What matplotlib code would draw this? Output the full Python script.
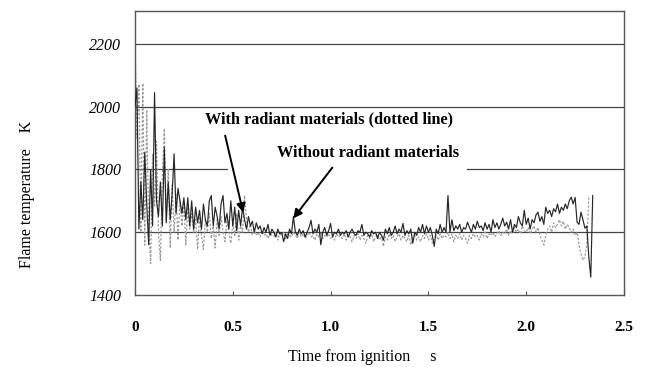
import matplotlib
matplotlib.use("Agg")
import matplotlib.pyplot as plt
import numpy as np

dt = 0.01

without_radiant = [
    2000, 2060, 1610, 1760, 1640, 1855, 1690, 1560, 1800, 1620,
    2045, 1700, 1650, 1760, 1620, 1870, 1630, 1760, 1640, 1720,
    1850, 1660, 1740, 1700, 1660, 1710, 1640, 1710, 1620, 1700,
    1610, 1680, 1630, 1670, 1610, 1690, 1640, 1620, 1700, 1717,
    1620, 1680, 1650, 1610, 1690, 1717, 1630, 1660, 1610, 1700,
    1620, 1680, 1605, 1670, 1620, 1680, 1640, 1610, 1650, 1620,
    1635, 1600, 1630, 1610, 1620, 1595, 1615, 1600, 1625, 1590,
    1610, 1600, 1585, 1610, 1595, 1600, 1570, 1595, 1580, 1610,
    1595, 1650, 1600, 1590, 1610, 1595, 1605, 1585, 1600, 1615,
    1638, 1595, 1610, 1600, 1625, 1560, 1600, 1615, 1590, 1605,
    1628, 1585, 1600, 1595, 1610, 1590, 1600, 1595, 1605, 1585,
    1600, 1610, 1595, 1590, 1605, 1600, 1625, 1590, 1600, 1595,
    1585, 1605, 1595, 1600, 1580, 1600, 1590, 1575, 1610, 1595,
    1615, 1590, 1600, 1620, 1595, 1610, 1600, 1628, 1590, 1605,
    1595, 1610, 1565, 1600, 1590, 1615, 1600, 1625, 1595, 1620,
    1600, 1615, 1590, 1555, 1610, 1595, 1625, 1600, 1615, 1600,
    1717, 1600, 1640, 1605, 1620, 1610, 1625, 1600, 1615, 1610,
    1632, 1615, 1600, 1625, 1610, 1635, 1615, 1620, 1605, 1630,
    1610, 1625, 1600, 1640, 1615, 1630, 1610, 1625, 1645, 1620,
    1632, 1610, 1640, 1600, 1625, 1615, 1650, 1630, 1620, 1670,
    1625, 1645, 1610, 1640, 1630, 1655, 1664, 1635, 1650, 1625,
    1680, 1660, 1670, 1650, 1675, 1665, 1690, 1660, 1680, 1670,
    1690, 1675, 1700, 1712, 1690, 1711, 1632, 1625, 1664, 1640,
    1613, 1620, 1520, 1457, 1717,
]

with_radiant = [
    2250, 1900, 2072, 1600, 2075, 1559, 1990, 1620, 1500, 1850,
    1680, 1890, 1600, 1510, 1780, 1930, 1640, 1800, 1550, 1750,
    1600, 1720, 1575, 1700, 1620, 1690, 1560, 1680, 1610, 1660,
    1600, 1640, 1545, 1650, 1590, 1545, 1640, 1600, 1660, 1580,
    1620, 1550, 1640, 1590, 1650, 1600, 1570, 1640, 1600, 1565,
    1630, 1590, 1660, 1575, 1620, 1600, 1717, 1640, 1600, 1625,
    1590, 1610, 1590, 1600, 1585, 1605, 1590, 1595, 1580, 1600,
    1590, 1585, 1600, 1575, 1595, 1590, 1600, 1580, 1595, 1590,
    1585, 1600, 1590, 1580, 1600, 1585, 1595, 1580, 1590, 1600,
    1585, 1590, 1575, 1595, 1585, 1600, 1580, 1590, 1585, 1595,
    1580, 1590, 1575, 1595, 1585, 1590, 1580, 1595, 1575, 1590,
    1585, 1570, 1590, 1580, 1595, 1575, 1590, 1580, 1565, 1590,
    1580, 1595, 1570, 1585, 1590, 1575, 1590, 1555, 1585, 1575,
    1595, 1580, 1590, 1570, 1585, 1595, 1575, 1590, 1580, 1570,
    1590, 1560, 1580, 1590, 1575, 1585, 1570, 1590, 1580, 1595,
    1575, 1590, 1565, 1580, 1590, 1575, 1595, 1580, 1590, 1585,
    1600, 1580, 1595, 1570, 1590, 1580, 1595, 1575, 1590, 1580,
    1565, 1590, 1580, 1595, 1585, 1590, 1575, 1595, 1585, 1600,
    1580, 1595, 1590, 1600, 1585, 1595, 1605, 1590, 1600, 1595,
    1610, 1590, 1605, 1595, 1615, 1600, 1610, 1595, 1620, 1605,
    1600, 1615, 1595, 1610, 1620, 1600, 1615, 1590, 1575, 1560,
    1590, 1610, 1620, 1600, 1630, 1615, 1625, 1640, 1620, 1635,
    1610, 1625, 1615, 1600, 1610, 1590, 1600, 1560, 1530, 1511,
    1520, 1560, 1717,
]

y_ticks = [1400, 1600, 1800, 2000, 2200]
x_ticks = [0, 0.5, 1.0, 1.5, 2.0, 2.5]
x_tick_labels = ["0", "0.5", "1.0", "1.5", "2.0", "2.5"]

t_without = np.arange(len(without_radiant)) * dt
t_with = np.arange(len(with_radiant)) * dt

serif = ["Liberation Serif", "DejaVu Serif"]

fig = plt.figure(figsize=(6.48, 3.67), dpi=100)
ax = fig.add_axes([0.2083, 0.1962, 0.7547, 0.7738])

# horizontal reference lines (the 1800 one is broken where the labels sit)
for yv in (1600, 2000, 2200):
    ax.axhline(yv, color="#444444", lw=0.9, zorder=1)
ax.axhline(1800, xmin=0, xmax=0.188, color="#444444", lw=0.9, zorder=1)
ax.axhline(1800, xmin=0.679, xmax=1, color="#444444", lw=0.9, zorder=1)

ax.plot(t_with, with_radiant, color="#999999", lw=0.85, dashes=(2.0, 1.4), zorder=2)
ax.plot(t_without, without_radiant, color="#262626", lw=0.85, zorder=3)

ax.set_xlim(0, 2.5)
ax.set_ylim(1400, 2305)
ax.set_yticks(y_ticks)
ax.set_yticklabels([str(v) for v in y_ticks], family=serif, style="italic", fontsize=11.5)
ax.set_xticks(x_ticks)
ax.set_xticklabels(x_tick_labels, family=serif, fontweight="bold", fontsize=11)
ax.tick_params(axis="y", length=0, pad=10)
ax.tick_params(axis="x", direction="in", length=3, pad=19, width=0.8, color="#555555")

for s in ax.spines.values():
    s.set_color("#555555")
    s.set_linewidth(1.0)

ax.text(0.994, 1959, "With radiant materials (dotted line)", ha="center", va="center",
        family=serif, fontweight="bold", fontsize=11.7)
ax.text(1.19, 1851, "Without radiant materials", ha="center", va="center",
        family=serif, fontweight="bold", fontsize=11.7)

arrow = dict(arrowstyle="-|>", color="black", lw=1.4, mutation_scale=13, shrinkA=0, shrinkB=0)
ax.annotate("", xy=(0.553, 1663), xytext=(0.461, 1908), arrowprops=arrow)
ax.annotate("", xy=(0.809, 1644), xytext=(1.009, 1806), arrowprops=arrow)

fig.text(27 / 648, 1 - 194 / 367, "Flame temperature    K", rotation=90, ha="center", va="center",
         family=serif, fontsize=11.5)
fig.text(362 / 648, 1 - 357 / 367, "Time from ignition     s", ha="center", va="center",
         family=serif, fontsize=11.5)

fig.savefig("out.png", dpi=100)
plt.close(fig)
